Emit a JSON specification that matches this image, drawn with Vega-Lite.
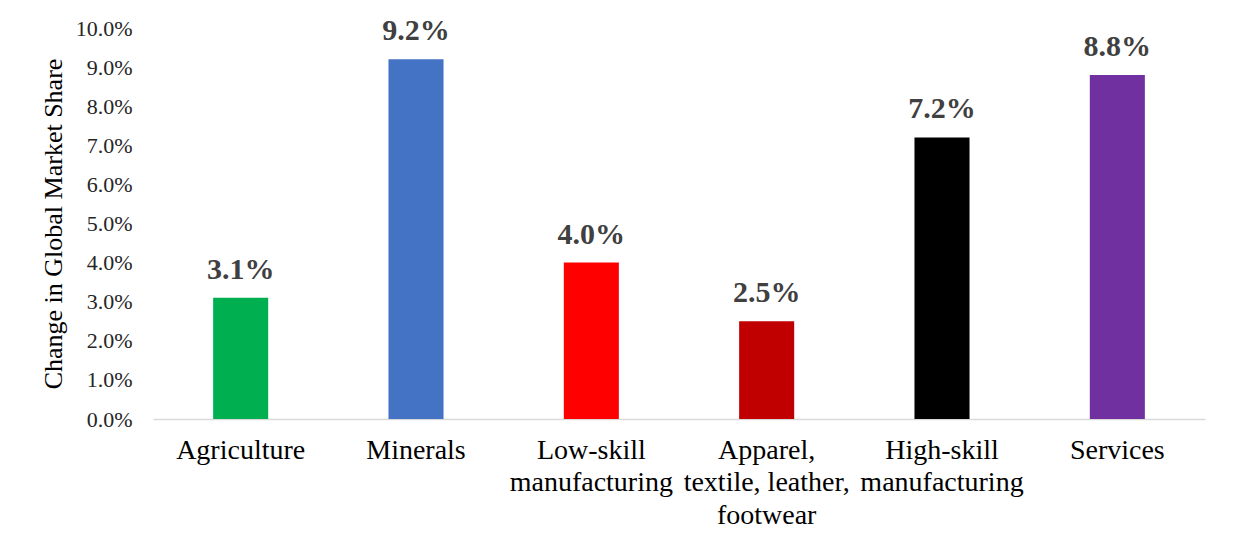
{
  "$schema": "https://vega.github.io/schema/vega-lite/v6.json",
  "width": 1052,
  "height": 391,
  "autosize": "none",
  "padding": {"left": 153, "top": 28, "right": 29, "bottom": 133},
  "background": "white",
  "config": {"view": {"stroke": null}, "font": "Liberation Serif"},
  "data": {
    "values": [
      {"sector": "Agriculture", "value": 0.031, "color": "#00b050"},
      {"sector": "Minerals", "value": 0.092, "color": "#4472c4"},
      {"sector": "Low-skill|manufacturing", "value": 0.040, "color": "#ff0000"},
      {"sector": "Apparel,|textile, leather,|footwear", "value": 0.025, "color": "#c00000"},
      {"sector": "High-skill|manufacturing", "value": 0.072, "color": "#000000"},
      {"sector": "Services", "value": 0.088, "color": "#7030a0"}
    ]
  },
  "encoding": {
    "x": {
      "field": "sector",
      "type": "nominal",
      "sort": null,
      "scale": {"paddingInner": 0.686, "paddingOuter": 0.343},
      "axis": {
        "title": null,
        "labelAngle": 0,
        "labelExpr": "split(datum.label, '|')",
        "labelFont": "Liberation Serif",
        "labelFontSize": 28,
        "labelLineHeight": 32.5,
        "labelColor": "#000000",
        "labelPadding": 17,
        "ticks": false,
        "domainColor": "#d9d9d9",
        "domainWidth": 1.5,
        "labelLimit": 0
      }
    },
    "y": {
      "field": "value",
      "type": "quantitative",
      "scale": {"domain": [0, 0.1], "nice": false},
      "axis": {
        "title": "Change in Global Market Share",
        "titleFont": "Liberation Serif",
        "titleFontSize": 26,
        "titleFontWeight": "normal",
        "titleColor": "#000000",
        "titlePadding": 9,
        "format": ".1%",
        "values": [0, 0.01, 0.02, 0.03, 0.04, 0.05, 0.06, 0.07, 0.08, 0.09, 0.1],
        "labelFont": "Liberation Serif",
        "labelFontSize": 22,
        "labelColor": "#262626",
        "labelPadding": 21,
        "ticks": false,
        "domain": false,
        "grid": false
      }
    }
  },
  "layer": [
    {
      "mark": {"type": "bar"},
      "encoding": {
        "color": {"field": "color", "type": "nominal", "scale": null}
      }
    },
    {
      "mark": {
        "type": "text",
        "baseline": "alphabetic",
        "dy": -19,
        "fontSize": 30,
        "fontWeight": "bold",
        "font": "Liberation Serif",
        "color": "#404040"
      },
      "encoding": {
        "text": {"field": "value", "type": "quantitative", "format": ".1%"}
      }
    }
  ]
}
